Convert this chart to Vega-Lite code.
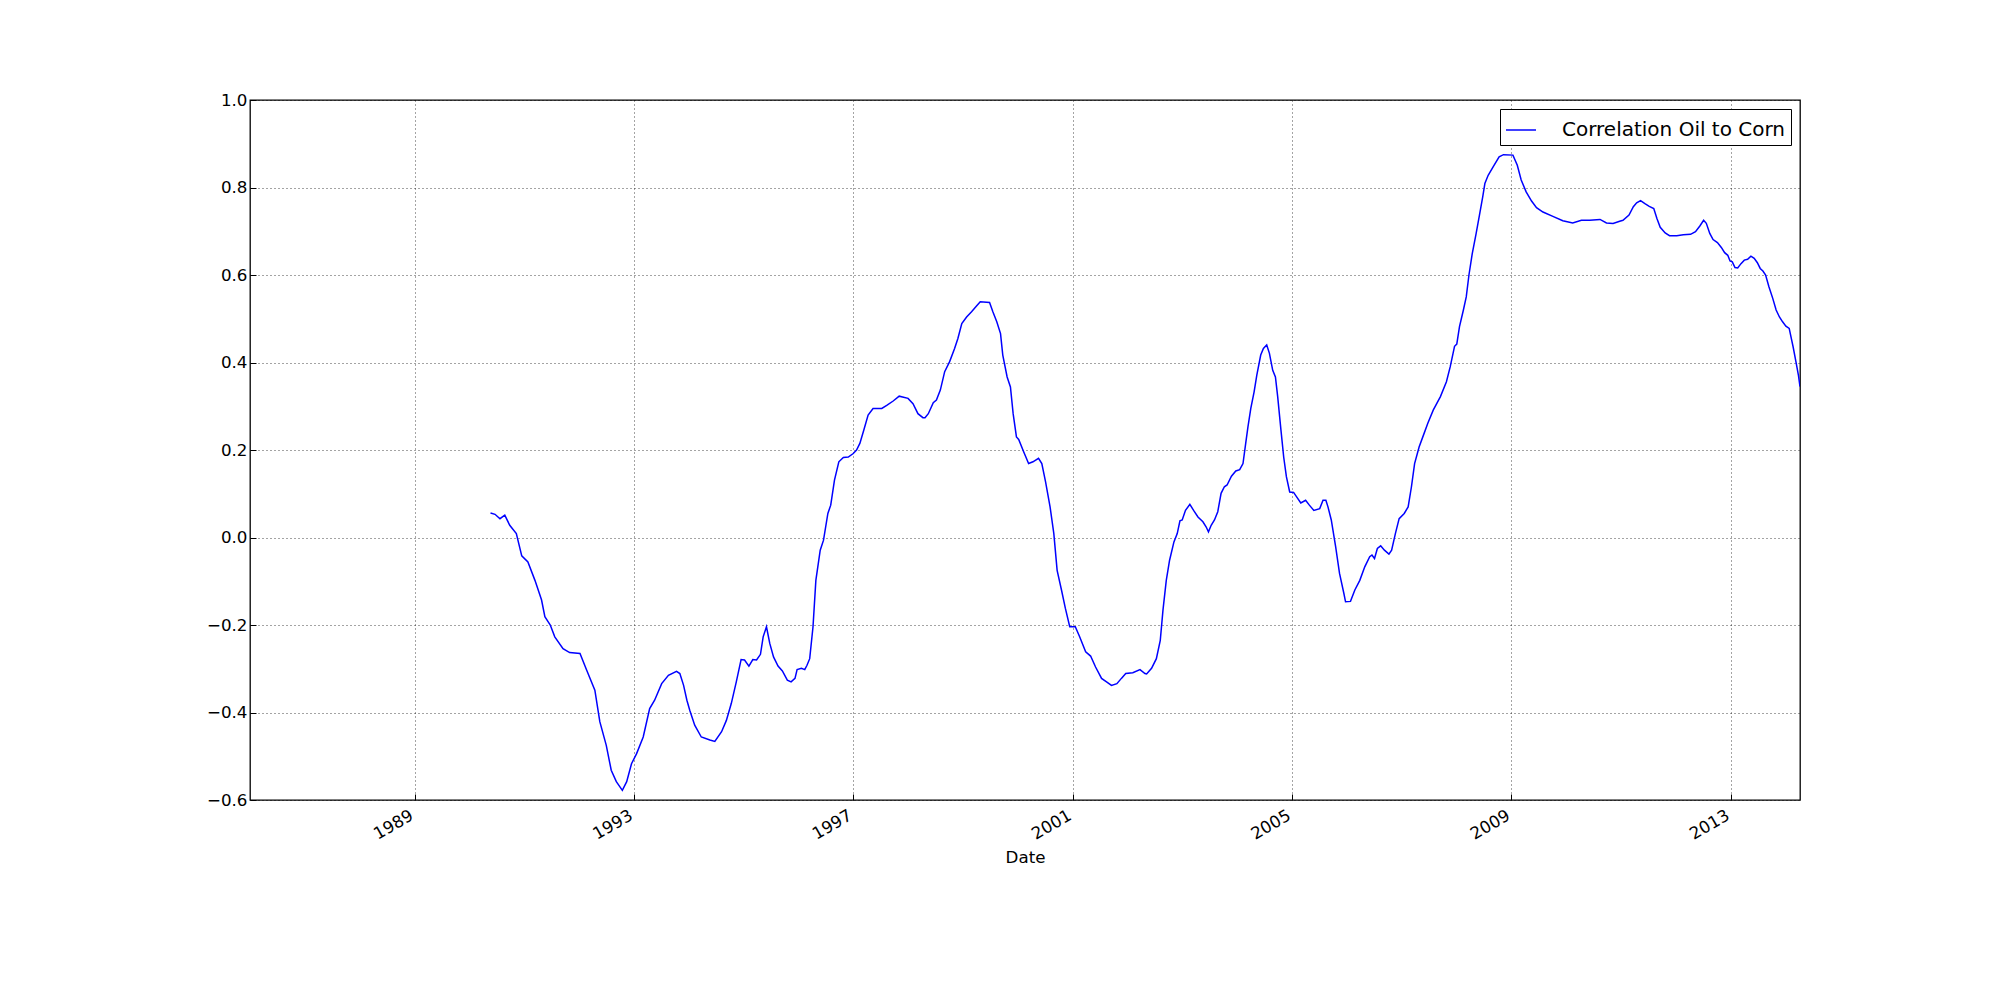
{
  "$schema": "https://vega.github.io/schema/vega-lite/v6.json",
  "autosize": "none",
  "width": 1550,
  "height": 700,
  "padding": {"left": 250, "top": 100, "right": 200, "bottom": 200},
  "background": "white",
  "config": {
    "font": "DejaVu Sans",
    "view": {"stroke": "black", "strokeWidth": 1.3},
    "axis": {
      "domain": false,
      "grid": true,
      "gridColor": "black",
      "gridDash": [1, 3],
      "gridWidth": 0.8,
      "gridOpacity": 0.9,
      "ticks": true,
      "tickColor": "black",
      "tickSize": -6,
      "tickWidth": 1,
      "labelColor": "black",
      "labelFontSize": 16.7,
      "labelFlush": false,
      "labelOverlap": false,
      "labelBound": false,
      "titleColor": "black",
      "titleFontSize": 16.7,
      "titleFontWeight": "normal"
    }
  },
  "data": {
    "values": [
      {"date": "1990-05-22", "corr": 0.056},
      {"date": "1990-06-21", "corr": 0.053},
      {"date": "1990-07-24", "corr": 0.043},
      {"date": "1990-08-25", "corr": 0.051},
      {"date": "1990-09-27", "corr": 0.028},
      {"date": "1990-11-10", "corr": 0.009},
      {"date": "1990-12-16", "corr": -0.042},
      {"date": "1991-01-26", "corr": -0.056},
      {"date": "1991-03-14", "corr": -0.098},
      {"date": "1991-04-27", "corr": -0.143},
      {"date": "1991-05-19", "corr": -0.181},
      {"date": "1991-06-24", "corr": -0.2},
      {"date": "1991-07-24", "corr": -0.227},
      {"date": "1991-09-17", "corr": -0.254},
      {"date": "1991-10-31", "corr": -0.263},
      {"date": "1992-01-08", "corr": -0.265},
      {"date": "1992-02-21", "corr": -0.303},
      {"date": "1992-04-16", "corr": -0.349},
      {"date": "1992-05-19", "corr": -0.421},
      {"date": "1992-07-01", "corr": -0.475},
      {"date": "1992-08-03", "corr": -0.532},
      {"date": "1992-09-06", "corr": -0.558},
      {"date": "1992-10-16", "corr": -0.578},
      {"date": "1992-11-14", "corr": -0.558},
      {"date": "1992-12-16", "corr": -0.517},
      {"date": "1993-01-19", "corr": -0.494},
      {"date": "1993-03-04", "corr": -0.456},
      {"date": "1993-04-16", "corr": -0.391},
      {"date": "1993-05-19", "corr": -0.372},
      {"date": "1993-07-05", "corr": -0.334},
      {"date": "1993-08-19", "corr": -0.315},
      {"date": "1993-10-12", "corr": -0.306},
      {"date": "1993-11-03", "corr": -0.311},
      {"date": "1993-11-28", "corr": -0.338},
      {"date": "1993-12-20", "corr": -0.372},
      {"date": "1994-01-08", "corr": -0.395},
      {"date": "1994-02-10", "corr": -0.429},
      {"date": "1994-03-26", "corr": -0.456},
      {"date": "1994-05-22", "corr": -0.463},
      {"date": "1994-06-24", "corr": -0.466},
      {"date": "1994-08-08", "corr": -0.444},
      {"date": "1994-09-09", "corr": -0.418},
      {"date": "1994-10-12", "corr": -0.379},
      {"date": "1994-11-14", "corr": -0.33},
      {"date": "1994-12-16", "corr": -0.279},
      {"date": "1995-01-08", "corr": -0.28},
      {"date": "1995-02-06", "corr": -0.294},
      {"date": "1995-03-04", "corr": -0.279},
      {"date": "1995-03-29", "corr": -0.28},
      {"date": "1995-04-24", "corr": -0.267},
      {"date": "1995-05-12", "corr": -0.227},
      {"date": "1995-06-03", "corr": -0.204},
      {"date": "1995-06-25", "corr": -0.242},
      {"date": "1995-07-20", "corr": -0.273},
      {"date": "1995-08-19", "corr": -0.294},
      {"date": "1995-09-17", "corr": -0.305},
      {"date": "1995-10-20", "corr": -0.326},
      {"date": "1995-11-14", "corr": -0.33},
      {"date": "1995-12-10", "corr": -0.322},
      {"date": "1995-12-24", "corr": -0.302},
      {"date": "1996-01-22", "corr": -0.299},
      {"date": "1996-02-13", "corr": -0.302},
      {"date": "1996-02-28", "corr": -0.292},
      {"date": "1996-03-17", "corr": -0.277},
      {"date": "1996-04-08", "corr": -0.204},
      {"date": "1996-04-27", "corr": -0.098},
      {"date": "1996-05-26", "corr": -0.029},
      {"date": "1996-06-17", "corr": -0.006},
      {"date": "1996-07-16", "corr": 0.055},
      {"date": "1996-08-04", "corr": 0.074},
      {"date": "1996-08-29", "corr": 0.131},
      {"date": "1996-09-27", "corr": 0.173},
      {"date": "1996-10-27", "corr": 0.183},
      {"date": "1996-11-29", "corr": 0.184},
      {"date": "1997-01-01", "corr": 0.192},
      {"date": "1997-01-23", "corr": 0.2},
      {"date": "1997-02-14", "corr": 0.215},
      {"date": "1997-03-12", "corr": 0.245},
      {"date": "1997-04-10", "corr": 0.28},
      {"date": "1997-05-13", "corr": 0.295},
      {"date": "1997-07-10", "corr": 0.295},
      {"date": "1997-08-12", "corr": 0.302},
      {"date": "1997-09-24", "corr": 0.312},
      {"date": "1997-11-03", "corr": 0.323},
      {"date": "1998-01-01", "corr": 0.318},
      {"date": "1998-02-03", "corr": 0.306},
      {"date": "1998-03-08", "corr": 0.283},
      {"date": "1998-04-10", "corr": 0.274},
      {"date": "1998-04-24", "corr": 0.274},
      {"date": "1998-05-16", "corr": 0.283},
      {"date": "1998-06-18", "corr": 0.308},
      {"date": "1998-07-09", "corr": 0.314},
      {"date": "1998-08-04", "corr": 0.337},
      {"date": "1998-09-02", "corr": 0.379},
      {"date": "1998-10-05", "corr": 0.402},
      {"date": "1998-11-07", "corr": 0.432},
      {"date": "1998-11-29", "corr": 0.455},
      {"date": "1998-12-25", "corr": 0.489},
      {"date": "1999-01-26", "corr": 0.504},
      {"date": "1999-02-28", "corr": 0.516},
      {"date": "1999-04-02", "corr": 0.529},
      {"date": "1999-04-27", "corr": 0.539},
      {"date": "1999-06-28", "corr": 0.537},
      {"date": "1999-07-20", "corr": 0.516},
      {"date": "1999-08-15", "corr": 0.493},
      {"date": "1999-09-09", "corr": 0.466},
      {"date": "1999-09-24", "corr": 0.417},
      {"date": "1999-10-23", "corr": 0.367},
      {"date": "1999-11-14", "corr": 0.344},
      {"date": "1999-12-02", "corr": 0.283},
      {"date": "1999-12-24", "corr": 0.23},
      {"date": "2000-01-08", "corr": 0.224},
      {"date": "2000-02-10", "corr": 0.196},
      {"date": "2000-03-14", "corr": 0.169},
      {"date": "2000-04-12", "corr": 0.173},
      {"date": "2000-05-19", "corr": 0.181},
      {"date": "2000-06-10", "corr": 0.169},
      {"date": "2000-07-05", "corr": 0.127},
      {"date": "2000-08-04", "corr": 0.07},
      {"date": "2000-08-29", "corr": 0.009},
      {"date": "2000-09-20", "corr": -0.075},
      {"date": "2000-10-19", "corr": -0.12},
      {"date": "2000-11-14", "corr": -0.162},
      {"date": "2000-12-13", "corr": -0.204},
      {"date": "2001-01-19", "corr": -0.204},
      {"date": "2001-02-17", "corr": -0.227},
      {"date": "2001-03-29", "corr": -0.261},
      {"date": "2001-05-01", "corr": -0.271},
      {"date": "2001-06-03", "corr": -0.296},
      {"date": "2001-07-13", "corr": -0.322},
      {"date": "2001-08-15", "corr": -0.33},
      {"date": "2001-09-17", "corr": -0.338},
      {"date": "2001-10-23", "corr": -0.334},
      {"date": "2001-11-22", "corr": -0.322},
      {"date": "2001-12-21", "corr": -0.311},
      {"date": "2002-02-06", "corr": -0.309},
      {"date": "2002-03-26", "corr": -0.302},
      {"date": "2002-04-28", "corr": -0.311},
      {"date": "2002-05-09", "corr": -0.312},
      {"date": "2002-06-11", "corr": -0.299},
      {"date": "2002-07-13", "corr": -0.277},
      {"date": "2002-08-08", "corr": -0.235},
      {"date": "2002-08-26", "corr": -0.166},
      {"date": "2002-09-17", "corr": -0.098},
      {"date": "2002-10-09", "corr": -0.052},
      {"date": "2002-11-07", "corr": -0.01},
      {"date": "2002-11-29", "corr": 0.009},
      {"date": "2002-12-17", "corr": 0.038},
      {"date": "2003-01-01", "corr": 0.04},
      {"date": "2003-01-23", "corr": 0.062},
      {"date": "2003-02-21", "corr": 0.076},
      {"date": "2003-03-18", "corr": 0.062},
      {"date": "2003-04-16", "corr": 0.047},
      {"date": "2003-05-19", "corr": 0.036},
      {"date": "2003-06-10", "corr": 0.024},
      {"date": "2003-06-25", "corr": 0.013},
      {"date": "2003-07-13", "corr": 0.028},
      {"date": "2003-08-04", "corr": 0.04},
      {"date": "2003-08-26", "corr": 0.059},
      {"date": "2003-09-17", "corr": 0.101},
      {"date": "2003-10-09", "corr": 0.116},
      {"date": "2003-10-27", "corr": 0.12},
      {"date": "2003-11-25", "corr": 0.14},
      {"date": "2003-12-24", "corr": 0.152},
      {"date": "2004-01-19", "corr": 0.155},
      {"date": "2004-02-10", "corr": 0.169},
      {"date": "2004-02-28", "corr": 0.215},
      {"date": "2004-03-14", "corr": 0.253},
      {"date": "2004-04-02", "corr": 0.295},
      {"date": "2004-04-24", "corr": 0.333},
      {"date": "2004-05-12", "corr": 0.371},
      {"date": "2004-06-07", "corr": 0.417},
      {"date": "2004-06-25", "corr": 0.432},
      {"date": "2004-07-17", "corr": 0.44},
      {"date": "2004-08-04", "corr": 0.421},
      {"date": "2004-08-26", "corr": 0.382},
      {"date": "2004-09-13", "corr": 0.367},
      {"date": "2004-09-28", "corr": 0.322},
      {"date": "2004-10-20", "corr": 0.245},
      {"date": "2004-11-07", "corr": 0.184},
      {"date": "2004-11-25", "corr": 0.139},
      {"date": "2004-12-17", "corr": 0.104},
      {"date": "2005-01-12", "corr": 0.103},
      {"date": "2005-01-30", "corr": 0.094},
      {"date": "2005-03-01", "corr": 0.079},
      {"date": "2005-04-02", "corr": 0.085},
      {"date": "2005-04-27", "corr": 0.074},
      {"date": "2005-05-27", "corr": 0.062},
      {"date": "2005-07-05", "corr": 0.066},
      {"date": "2005-07-27", "corr": 0.085},
      {"date": "2005-08-15", "corr": 0.085},
      {"date": "2005-08-29", "corr": 0.07},
      {"date": "2005-09-20", "corr": 0.04},
      {"date": "2005-10-19", "corr": -0.021},
      {"date": "2005-11-14", "corr": -0.082},
      {"date": "2005-12-13", "corr": -0.128},
      {"date": "2005-12-24", "corr": -0.147},
      {"date": "2006-01-26", "corr": -0.146},
      {"date": "2006-02-24", "corr": -0.12},
      {"date": "2006-03-29", "corr": -0.098},
      {"date": "2006-05-01", "corr": -0.067},
      {"date": "2006-06-03", "corr": -0.044},
      {"date": "2006-06-18", "corr": -0.04},
      {"date": "2006-07-05", "corr": -0.048},
      {"date": "2006-07-24", "corr": -0.025},
      {"date": "2006-08-15", "corr": -0.019},
      {"date": "2006-09-09", "corr": -0.029},
      {"date": "2006-10-09", "corr": -0.038},
      {"date": "2006-10-27", "corr": -0.029},
      {"date": "2006-11-21", "corr": 0.009},
      {"date": "2006-12-16", "corr": 0.043},
      {"date": "2007-01-19", "corr": 0.055},
      {"date": "2007-02-14", "corr": 0.07},
      {"date": "2007-03-08", "corr": 0.116},
      {"date": "2007-03-29", "corr": 0.169},
      {"date": "2007-04-28", "corr": 0.207},
      {"date": "2007-05-27", "corr": 0.234},
      {"date": "2007-06-25", "corr": 0.261},
      {"date": "2007-07-31", "corr": 0.291},
      {"date": "2007-09-17", "corr": 0.322},
      {"date": "2007-10-27", "corr": 0.356},
      {"date": "2007-11-21", "corr": 0.39},
      {"date": "2007-12-20", "corr": 0.437},
      {"date": "2008-01-04", "corr": 0.442},
      {"date": "2008-01-22", "corr": 0.482},
      {"date": "2008-02-17", "corr": 0.52},
      {"date": "2008-03-07", "corr": 0.55},
      {"date": "2008-03-25", "corr": 0.6},
      {"date": "2008-04-16", "corr": 0.649},
      {"date": "2008-05-12", "corr": 0.695},
      {"date": "2008-06-03", "corr": 0.737},
      {"date": "2008-06-25", "corr": 0.779},
      {"date": "2008-07-09", "corr": 0.809},
      {"date": "2008-07-31", "corr": 0.828},
      {"date": "2008-09-02", "corr": 0.847},
      {"date": "2008-10-12", "corr": 0.87},
      {"date": "2008-11-10", "corr": 0.875},
      {"date": "2009-01-12", "corr": 0.874},
      {"date": "2009-02-10", "corr": 0.851},
      {"date": "2009-03-08", "corr": 0.817},
      {"date": "2009-04-10", "corr": 0.79},
      {"date": "2009-05-16", "corr": 0.769},
      {"date": "2009-06-18", "corr": 0.754},
      {"date": "2009-07-31", "corr": 0.744},
      {"date": "2009-10-05", "corr": 0.734},
      {"date": "2009-12-10", "corr": 0.724},
      {"date": "2010-02-14", "corr": 0.719},
      {"date": "2010-04-13", "corr": 0.725},
      {"date": "2010-06-07", "corr": 0.725},
      {"date": "2010-08-15", "corr": 0.727},
      {"date": "2010-09-27", "corr": 0.719},
      {"date": "2010-11-10", "corr": 0.718},
      {"date": "2010-12-24", "corr": 0.723},
      {"date": "2011-01-15", "corr": 0.725},
      {"date": "2011-02-24", "corr": 0.737},
      {"date": "2011-03-25", "corr": 0.756},
      {"date": "2011-04-16", "corr": 0.765},
      {"date": "2011-05-12", "corr": 0.77},
      {"date": "2011-06-10", "corr": 0.763},
      {"date": "2011-07-09", "corr": 0.757},
      {"date": "2011-08-08", "corr": 0.752},
      {"date": "2011-08-29", "corr": 0.729},
      {"date": "2011-09-20", "corr": 0.709},
      {"date": "2011-10-23", "corr": 0.696},
      {"date": "2011-11-21", "corr": 0.69},
      {"date": "2012-01-08", "corr": 0.69},
      {"date": "2012-02-21", "corr": 0.692},
      {"date": "2012-04-09", "corr": 0.693},
      {"date": "2012-05-12", "corr": 0.699},
      {"date": "2012-06-10", "corr": 0.712},
      {"date": "2012-07-05", "corr": 0.725},
      {"date": "2012-07-23", "corr": 0.718},
      {"date": "2012-08-15", "corr": 0.695},
      {"date": "2012-09-06", "corr": 0.681},
      {"date": "2012-10-05", "corr": 0.674},
      {"date": "2012-10-31", "corr": 0.663},
      {"date": "2012-11-22", "corr": 0.651},
      {"date": "2012-12-13", "corr": 0.645},
      {"date": "2012-12-28", "corr": 0.632},
      {"date": "2013-01-12", "corr": 0.63},
      {"date": "2013-01-30", "corr": 0.617},
      {"date": "2013-02-17", "corr": 0.616},
      {"date": "2013-03-11", "corr": 0.626},
      {"date": "2013-04-02", "corr": 0.634},
      {"date": "2013-04-24", "corr": 0.636},
      {"date": "2013-05-16", "corr": 0.643},
      {"date": "2013-06-07", "corr": 0.638},
      {"date": "2013-06-28", "corr": 0.628},
      {"date": "2013-07-17", "corr": 0.615},
      {"date": "2013-08-04", "corr": 0.609},
      {"date": "2013-08-22", "corr": 0.6},
      {"date": "2013-09-13", "corr": 0.573},
      {"date": "2013-10-09", "corr": 0.546},
      {"date": "2013-10-31", "corr": 0.52},
      {"date": "2013-11-22", "corr": 0.504},
      {"date": "2013-12-13", "corr": 0.493},
      {"date": "2014-01-04", "corr": 0.483},
      {"date": "2014-01-26", "corr": 0.478},
      {"date": "2014-02-21", "corr": 0.436},
      {"date": "2014-03-14", "corr": 0.398},
      {"date": "2014-03-28", "corr": 0.372},
      {"date": "2014-04-08", "corr": 0.345}
    ]
  },
  "mark": {"type": "line", "strokeWidth": 1.5, "clip": true},
  "encoding": {
    "x": {
      "field": "date",
      "type": "temporal",
      "scale": {
        "type": "utc",
        "nice": false,
        "domain": [
          {"year": 1986, "month": 1, "date": 1, "utc": true},
          {"year": 2014, "month": 4, "date": 8, "utc": true}
        ]
      },
      "axis": {
        "title": "Date",
        "values": [
          {"year": 1989, "month": 1, "date": 1, "utc": true},
          {"year": 1993, "month": 1, "date": 1, "utc": true},
          {"year": 1997, "month": 1, "date": 1, "utc": true},
          {"year": 2001, "month": 1, "date": 1, "utc": true},
          {"year": 2005, "month": 1, "date": 1, "utc": true},
          {"year": 2009, "month": 1, "date": 1, "utc": true},
          {"year": 2013, "month": 1, "date": 1, "utc": true}
        ],
        "format": "%Y",
        "labelAngle": -30,
        "labelAlign": "right",
        "labelBaseline": "top",
        "labelOffset": -7,
        "labelPadding": 13,
        "titleY": 62,
        "titleBaseline": "alphabetic"
      }
    },
    "y": {
      "field": "corr",
      "type": "quantitative",
      "scale": {"domain": [-0.6, 1.0], "nice": false, "zero": false},
      "axis": {
        "title": null,
        "values": [-0.6, -0.4, -0.2, 0.0, 0.2, 0.4, 0.6, 0.8, 1.0],
        "format": ".1f",
        "labelPadding": 9
      }
    },
    "color": {
      "datum": "Correlation Oil to Corn",
      "type": "nominal",
      "scale": {"range": ["#0000ff"]},
      "legend": {
        "title": null,
        "orient": "top-right",
        "offset": 9,
        "symbolType": "stroke",
        "symbolStrokeWidth": 1.5,
        "symbolSize": 900,
        "labelFontSize": 20,
        "labelLimit": 0,
        "labelColor": "black",
        "labelOffset": 25,
        "strokeColor": "black",
        "fillColor": "white",
        "padding": 5,
        "cornerRadius": 0
      }
    }
  }
}
